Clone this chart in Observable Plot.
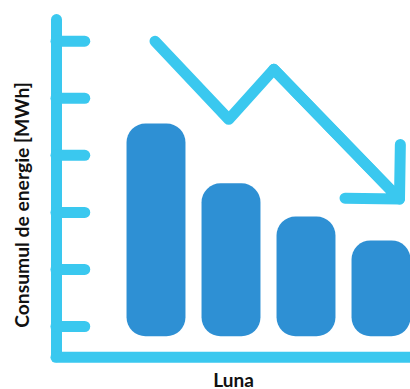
<!DOCTYPE html>
<html><head><meta charset="utf-8">
<script src="https://cdn.jsdelivr.net/npm/d3@7"></script>
<script src="https://cdn.jsdelivr.net/npm/@observablehq/plot@0.6"></script>
<style>html,body{margin:0;padding:0;background:#fff;} svg{display:block}</style>
</head><body><div id="chart"></div>
<script>
// Data
const months = [1, 2, 3, 4];
const consumption = [4.55, 3.50, 2.92, 2.50];
const baseline = 0.82;
const tickValues = [1, 2, 3, 4, 5, 6];
const trendX = [0.98, 1.964, 2.564, 4.24];
const trendY = [6.0, 4.63, 5.507, 3.234];
const yLabel = "Consumul de energie [MWh]";
const xLabel = "Luna";

const light = "#3ac8ef";
const dark = "#2e90d4";
const SW = 11;

const bars = months.map((m, i) => ({month: m, value: consumption[i]}));
const trend = trendX.map((x, i) => ({x, y: trendY[i]}));
const last = [{x1: trendX[2], y1: trendY[2], x2: trendX[3], y2: trendY[3]}];

const chart = Plot.plot({
  width: 410,
  height: 389,
  marginLeft: 0, marginRight: 0, marginTop: 0, marginBottom: 0,
  x: {domain: [-1/3, 4.4], range: [56, 411], axis: null},
  y: {domain: [0, 6], range: [383.06, 40.7], axis: null},
  style: {background: "#fff", overflow: "visible"},
  marks: [
    // axes
    Plot.ruleX([-1/3], {y1: 0.46, y2: 6.37, stroke: light, strokeWidth: SW, strokeLinecap: "round"}),
    Plot.ruleY([0.46], {x1: -1/3, x2: 4.7, stroke: light, strokeWidth: SW, strokeLinecap: "round"}),
    Plot.ruleY(tickValues, {x1: -1/3, x2: 0.05, stroke: light, strokeWidth: SW, strokeLinecap: "round"}),
    // bars
    Plot.rect(bars, {x1: d => d.month - 0.393, x2: d => d.month + 0.393, y1: baseline, y2: "value", fill: dark, rx: 19, ry: 19}),
    // trend
    Plot.line(trend, {x: "x", y: "y", stroke: light, strokeWidth: SW, strokeLinecap: "round", strokeLinejoin: "round"}),
    Plot.arrow(last, {x1: "x1", y1: "y1", x2: "x2", y2: "y2", stroke: light, strokeWidth: SW, headAngle: 90, headLength: 7.43, strokeLinecap: "round", strokeLinejoin: "round"}),
    // labels
    Plot.text([yLabel], {frameAnchor: "left", textAnchor: "middle", rotate: -90, dx: 22.5, dy: 10, fontSize: 19.3, fontWeight: "bold", fontFamily: "Lato", fill: "#111"}),
    Plot.text([xLabel], {frameAnchor: "bottom", textAnchor: "middle", lineAnchor: "bottom", dx: 28, dy: -3, fontSize: 19, fontWeight: "bold", fontFamily: "Lato", fill: "#111"})
  ]
});
document.getElementById("chart").appendChild(chart);
</script>
</body></html>
